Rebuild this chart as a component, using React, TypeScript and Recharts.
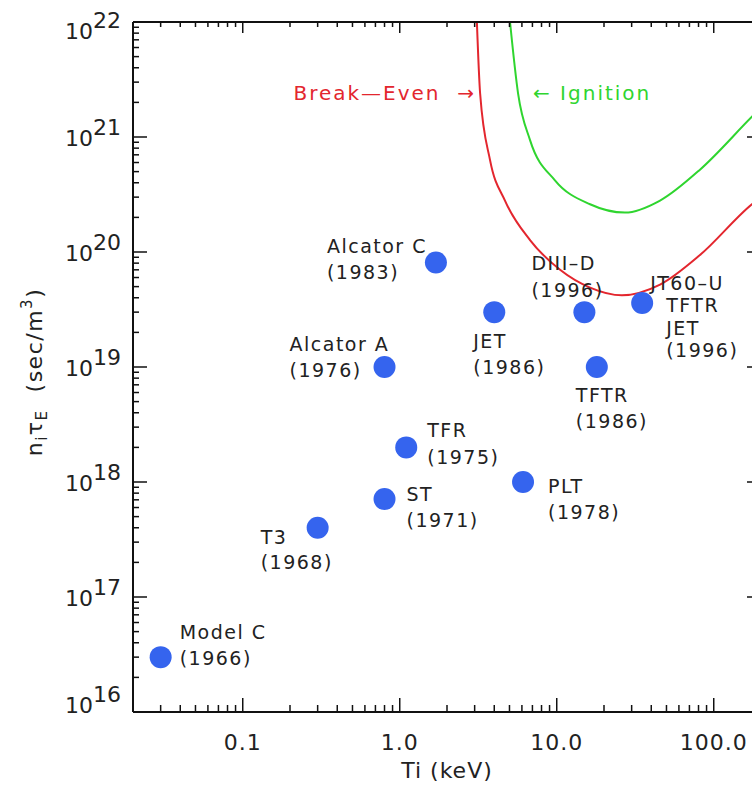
import React from 'react';
import { ComposedChart, XAxis, YAxis, Scatter, Line } from 'recharts';

// ---- data ----
const tiKeV = [0.03, 0.3, 0.8, 1.1, 0.8, 1.7, 6.1, 4.0, 15, 18, 35];
const niTauE = [3.0e16, 4.0e17, 7.1e17, 2.0e18, 1.0e19, 8.1e19, 1.0e18, 3.0e19, 3.0e19, 1.0e19, 3.6e19];
const deviceLabels = [
  ['Model C', '(1966)'],
  ['T3', '(1968)'],
  ['ST', '(1971)'],
  ['TFR', '(1975)'],
  ['Alcator A', '(1976)'],
  ['Alcator C', '(1983)'],
  ['PLT', '(1978)'],
  ['JET', '(1986)'],
  ['DIII–D', '(1996)'],
  ['TFTR', '(1986)'],
  ['JT60–U', 'TFTR', 'JET', '(1996)'],
];

const breakEvenTi = [3.1, 3.25, 3.76, 4.68, 6.76, 10.5, 16.3, 26, 45.5, 81.7, 175, 200];
const breakEvenNt = [1e22, 2.4e21, 6.3e20, 2.8e20, 1.27e20, 7.0e19, 4.9e19, 4.2e19, 5.2e19, 9.4e19, 2.6e20, 3.0e20];
const ignitionTi = [5.04, 5.67, 6.76, 9.74, 16.3, 27.2, 45.5, 81.7, 175, 200];
const ignitionNt = [1e22, 2.4e21, 9.4e20, 4.2e20, 2.6e20, 2.2e20, 2.8e20, 5.2e20, 1.5e21, 1.8e21];

const curveLabelTexts = ['Break—Even  →', '← Ignition'];
const curveLabelTi = [3.06, 7.06];
const curveLabelNt = [2.4e21, 2.4e21];

const xMajorTicks = [0.1, 1, 10, 100];
const xTickLabels = ['0.1', '1.0', '10.0', '100.0'];
const xDomain = [0.02, 200];
const yDomain = [1e16, 1e22];
const xTitle = 'Ti (keV)';

// ---- layout / style ----
const labelLayout = [
  [[19, -25], [19, 1]],
  [[-57, 9], [-57, 34]],
  [[22, -5], [22, 21]],
  [[21, -17], [21, 10]],
  [[-95, -23], [-95, 3]],
  [[-109, -17], [-109, 9]],
  [[25, 4], [25, 30]],
  [[-21, 29], [-21, 55]],
  [[-53, -49], [-53, -22]],
  [[-21, 28], [-21, 54]],
  [[8, -20], [24, 2], [24, 25], [24, 47]],
];
const curveLabelStyle = [
  { color: '#e3262e', anchor: 'end' },
  { color: '#2fd52f', anchor: 'start' },
];

const FONT = '"DejaVu Sans", sans-serif';
const RED = '#e3262e';
const GREEN = '#2fd52f';
const BLUE = '#3564ee';
const INK = '#222';

const devices = tiKeV.map((x, i) => ({ x, y: niTauE[i], lines: deviceLabels[i], layout: labelLayout[i] }));
const breakEven = breakEvenTi.map((x, i) => ({ x, y: breakEvenNt[i] }));
const ignition = ignitionTi.map((x, i) => ({ x, y: ignitionNt[i] }));
const curveLabels = curveLabelTexts.map((t, i) => ({ x: curveLabelTi[i], y: curveLabelNt[i], text: t, style: curveLabelStyle[i] }));

function logTicks(lo: number, hi: number) {
  const out: number[] = [];
  for (let d = Math.floor(Math.log10(lo)); d <= Math.ceil(Math.log10(hi)); d++) {
    for (let m = 1; m <= 9; m++) {
      const v = m * Math.pow(10, d);
      if (v >= lo * 0.999 && v <= hi * 1.001) out.push(v);
    }
  }
  return out;
}
const isMajor = (v: number) => Math.abs(Math.log10(v) - Math.round(Math.log10(v))) < 1e-6;
const xTicks = logTicks(xDomain[0], xDomain[1]).filter((v) => v > xDomain[0] * 1.001 && v < xDomain[1] * 0.999);
const yTicks = logTicks(yDomain[0], yDomain[1]);

const BottomTick = (props: any) => {
  const { x, y, payload } = props;
  const v = payload.value;
  const major = isMajor(v);
  const idx = xMajorTicks.findIndex((t) => Math.abs(t - v) / v < 1e-6);
  return (
    <g>
      <line x1={x} x2={x} y1={y} y2={y - (major ? 14 : 7)} stroke="#111" strokeWidth={1.5} />
      {idx >= 0 && (
        <text x={x} y={y + 38} textAnchor="middle" fontSize={22} fontFamily={FONT} fill={INK} letterSpacing={1}>
          {xTickLabels[idx]}
        </text>
      )}
    </g>
  );
};
const TopTick = (props: any) => {
  const { x, y, payload } = props;
  const major = isMajor(payload.value);
  return <line x1={x} x2={x} y1={y} y2={y + (major ? 11 : 5)} stroke="#111" strokeWidth={1.5} />;
};
const LeftTick = (props: any) => {
  const { x, y, payload } = props;
  const v = payload.value;
  const major = isMajor(v);
  const e = Math.round(Math.log10(v));
  let base = 9;
  if (e === 22) base = 17;
  if (e === 16) base = 1;
  const edge = v <= yDomain[0] * 1.001 || v >= yDomain[1] * 0.999;
  return (
    <g>
      {!edge && <line x1={x} x2={x + (major ? 14 : 6)} y1={y} y2={y} stroke="#111" strokeWidth={1.5} />}
      {major && (
        <text x={x - 12} y={y + base} textAnchor="end" fontSize={22} fontFamily={FONT} fill={INK}>
          <tspan>10</tspan>
          <tspan dy={-11}>{String(e)}</tspan>
        </text>
      )}
    </g>
  );
};
const RightTick = (props: any) => {
  const { x, y, payload } = props;
  const major = isMajor(payload.value);
  return <line x1={x} x2={x - (major ? 14 : 6)} y1={y} y2={y} stroke="#111" strokeWidth={1.5} />;
};

const DeviceShape = (props: any) => {
  const { cx, cy, payload } = props;
  if (cx == null || cy == null) return null;
  return (
    <g>
      <circle cx={cx} cy={cy} r={11} fill={BLUE} />
      {payload.lines.map((t: string, i: number) => (
        <text
          key={i}
          x={cx + payload.layout[i][0]}
          y={cy + payload.layout[i][1] + 7}
          fontSize={19}
          fontFamily={FONT}
          fill={INK}
          letterSpacing={1.5}
        >
          {t}
        </text>
      ))}
    </g>
  );
};

const CurveLabelShape = (props: any) => {
  const { cx, cy, payload } = props;
  if (cx == null || cy == null) return null;
  return (
    <text
      x={cx}
      y={cy + 7}
      textAnchor={payload.style.anchor}
      fontSize={20}
      fontFamily={FONT}
      fill={payload.style.color}
      letterSpacing={2}
      style={{ whiteSpace: 'pre' }}
    >
      {payload.text}
    </text>
  );
};

const XTitle = (props: any) => {
  const vb = props.viewBox || { x: 133, y: 712, width: 628, height: 77 };
  return (
    <text x={vb.x + vb.width / 2} y={vb.y + 66} textAnchor="middle" fontSize={22} fontFamily={FONT} fill={INK} letterSpacing={1}>
      {xTitle}
    </text>
  );
};
const YTitle = (props: any) => {
  const vb = props.viewBox || { x: 0, y: 22, width: 133, height: 690 };
  const cx = vb.x + 42;
  const cy = vb.y + vb.height / 2 + 5;
  return (
    <text
      x={cx}
      y={cy}
      transform={`rotate(-90, ${cx}, ${cy})`}
      textAnchor="middle"
      fontSize={22}
      fontFamily={FONT}
      fill={INK}
      letterSpacing={1.5}
      style={{ whiteSpace: 'pre' }}
    >
      <tspan>n</tspan>
      <tspan fontSize={15} dy={5}>i</tspan>
      <tspan dy={-5}>τ</tspan>
      <tspan fontSize={15} dy={5}>E</tspan>
      <tspan dy={-5}>{'  (sec/m'}</tspan>
      <tspan fontSize={15} dy={-10}>3</tspan>
      <tspan dy={10}>)</tspan>
    </text>
  );
};

export default function App() {
  return (
    <div style={{ position: 'absolute', left: 0, top: 0, width: 752, height: 789, overflow: 'hidden', background: '#fff' }}>
      <ComposedChart width={770} height={789} margin={{ top: 21, right: 8, bottom: 0, left: 0 }}>
        <XAxis
          xAxisId="b"
          dataKey="x"
          type="number"
          scale="log"
          domain={xDomain}
          allowDataOverflow
          ticks={xTicks}
          interval={0}
          tick={<BottomTick />}
          tickSize={0}
          tickMargin={0}
          tickLine={false}
          height={77}
          axisLine={{ stroke: '#111', strokeWidth: 2 }}
          label={<XTitle />}
        />
        <XAxis
          xAxisId="t"
          dataKey="x"
          orientation="top"
          type="number"
          scale="log"
          domain={xDomain}
          allowDataOverflow
          ticks={xTicks}
          interval={0}
          tick={<TopTick />}
          tickSize={0}
          tickMargin={0}
          tickLine={false}
          height={1}
          axisLine={{ stroke: '#111', strokeWidth: 2 }}
        />
        <YAxis
          yAxisId="l"
          dataKey="y"
          type="number"
          scale="log"
          domain={yDomain}
          allowDataOverflow
          ticks={yTicks}
          interval={0}
          tick={<LeftTick />}
          tickSize={0}
          tickMargin={0}
          tickLine={false}
          width={133}
          axisLine={{ stroke: '#111', strokeWidth: 2 }}
          label={<YTitle />}
        />
        <YAxis
          yAxisId="r"
          dataKey="y"
          orientation="right"
          type="number"
          scale="log"
          domain={yDomain}
          allowDataOverflow
          ticks={yTicks}
          interval={0}
          tick={<RightTick />}
          tickSize={0}
          tickMargin={0}
          tickLine={false}
          width={1}
          axisLine={{ stroke: '#111', strokeWidth: 2 }}
        />
        <Line
          xAxisId="b"
          yAxisId="l"
          data={breakEven}
          dataKey="y"
          type="monotone"
          stroke={RED}
          strokeWidth={2}
          dot={false}
          activeDot={false}
          isAnimationActive={false}
        />
        <Line
          xAxisId="b"
          yAxisId="l"
          data={ignition}
          dataKey="y"
          type="monotone"
          stroke={GREEN}
          strokeWidth={2}
          dot={false}
          activeDot={false}
          isAnimationActive={false}
        />
        <Scatter xAxisId="b" yAxisId="l" data={curveLabels} dataKey="y" shape={<CurveLabelShape />} isAnimationActive={false} />
        <Scatter xAxisId="b" yAxisId="l" data={devices} dataKey="y" shape={<DeviceShape />} isAnimationActive={false} />
      </ComposedChart>
    </div>
  );
}
